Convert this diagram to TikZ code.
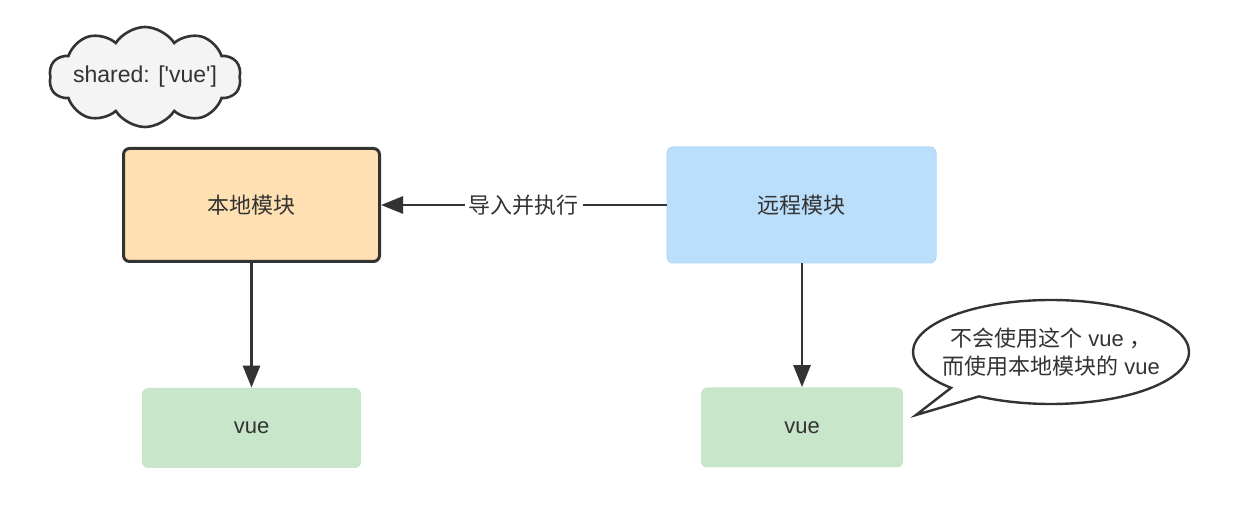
\documentclass[tikz,border=0pt]{standalone}
\usepackage{fontspec}
\newfontfamily\latin{Liberation Sans}
\newfontfamily\cjk{Noto Sans CJK SC}
\usetikzlibrary{arrows.meta,shapes.symbols,shapes.callouts}
\definecolor{textgray}{HTML}{333333}
\definecolor{linegray}{HTML}{333333}
\definecolor{peach}{HTML}{FFE0B2}
\definecolor{skyblue}{HTML}{BBDEFB}
\definecolor{skyline}{HTML}{B0D8FA}
\definecolor{mint}{HTML}{C8E6C9}
\definecolor{cloudgray}{HTML}{F4F4F4}

\begin{document}
\begin{tikzpicture}
  [x=0.5pt,y=-0.5pt,
   every node/.style={text=textgray,font=\latin\fontsize{11}{14}\selectfont},
   local box/.style={rectangle,rounded corners=3pt,draw=linegray,line width=1.5pt,fill=peach,
     minimum width=128pt,minimum height=56.5pt},
   remote box/.style={rectangle,rounded corners=3pt,draw=skyline,line width=0.5pt,fill=skyblue,
     minimum width=134.5pt,minimum height=58pt},
   vue box/.style={rectangle,rounded corners=3pt,fill=mint,minimum height=40pt},
   link/.style={draw=linegray,line width=1.4pt,-{Triangle[length=11pt,width=8.5pt]}}]
  \useasboundingbox (0,0) rectangle (1234,506);

  \node[cloud,cloud puffs=10,cloud puff arc=115,cloud ignores aspect,draw=linegray,line width=1.3pt,
    fill=cloudgray,minimum width=96pt,minimum height=50pt,inner sep=0pt,
    label={[font=\latin\fontsize{11.5}{14}\selectfont]center:shared: ['vue']}] (shared) at (145,77) {};

  \node[local box] (local) at (251.5,205) {\cjk 本地模块};
  \node[remote box] (remote) at (801.5,205) {\cjk 远程模块};
  \node[vue box,minimum width=109.5pt] (vueL) at (251.5,428) {vue};
  \node[vue box,minimum width=101pt] (vueR) at (802,427.5) {vue};

  \coordinate (tip) at (916,415);
  \node[ellipse callout,draw=linegray,line width=1.2pt,fill=white,minimum width=138pt,
    minimum height=52pt,callout absolute pointer={(tip)},inner sep=0pt,
    label={[align=center]center:{\cjk 不会使用这个} vue {\cjk ，}\\{\cjk 而使用本地模块的} vue}]
    (note) at (1051,352) {};

  \path[link] (remote) -- node[fill=white,inner sep=2pt] {\cjk 导入并执行} (local);
  \path[link] (local) -- (vueL);
  \path[link] (remote.south -| vueR.north) -- (vueR);
\end{tikzpicture}
\end{document}
